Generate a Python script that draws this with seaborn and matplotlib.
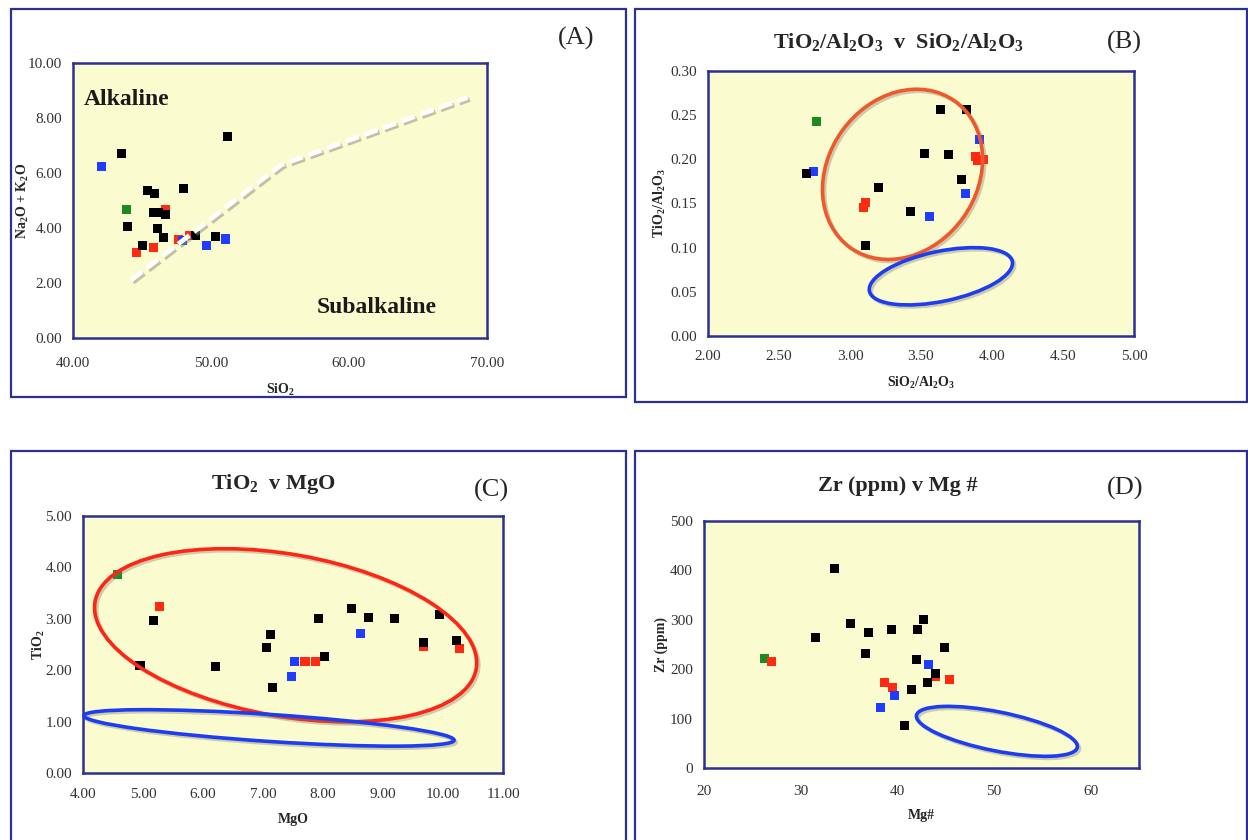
import numpy as np
import pandas as pd
import matplotlib
matplotlib.use("Agg")
import matplotlib.pyplot as plt
import matplotlib.transforms as mtransforms
import matplotlib.patheffects as pe
from matplotlib.patches import Ellipse, Rectangle
from matplotlib.ticker import FormatStrFormatter
import seaborn as sns

# ---- data (g=green, r=red, b=blue, k=black) ----
a_grp = ['g', 'r', 'r', 'r', 'r', 'r', 'b', 'b', 'b', 'b',
         'k', 'k', 'k', 'k', 'k', 'k', 'k', 'k', 'k', 'k', 'k', 'k', 'k', 'k']
a_sio2 = [43.85, 46.68, 44.57, 45.86, 47.62, 48.42, 42.06, 47.91, 49.68, 51.08,
          43.53, 51.18, 43.97, 45.37, 45.90, 45.86, 46.19, 46.68, 46.12, 46.58, 45.03, 48.88, 48.01, 50.31]
a_alk = [4.66, 4.68, 3.11, 3.29, 3.59, 3.71, 6.25, 3.53, 3.35, 3.60,
         6.71, 7.32, 4.05, 5.38, 5.24, 4.57, 4.57, 4.49, 3.98, 3.66, 3.36, 3.72, 5.42, 3.70]
# alkaline / subalkaline divide
div_sio2 = [44.2, 55.1, 68.6]
div_alk = [2.1, 6.3, 8.75]

b_grp = ['g', 'r', 'r', 'r', 'r', 'r', 'b', 'b', 'b', 'b',
         'k', 'k', 'k', 'k', 'k', 'k', 'k', 'k', 'k']
b_si_al = [2.762, 3.881, 3.900, 3.940, 3.107, 3.098, 2.744, 3.909, 3.816, 3.560,
           2.692, 3.640, 3.823, 3.527, 3.694, 3.787, 3.203, 3.429, 3.112]
b_ti_al = [0.243, 0.203, 0.199, 0.200, 0.151, 0.145, 0.186, 0.222, 0.161, 0.135,
           0.184, 0.256, 0.256, 0.207, 0.206, 0.177, 0.168, 0.1405, 0.102]

c_grp = ['g', 'r', 'r', 'r', 'r', 'r', 'b', 'b', 'b',
         'k', 'k', 'k', 'k', 'k', 'k', 'k', 'k', 'k', 'k', 'k', 'k', 'k', 'k']
c_mgo = [4.58, 5.28, 7.70, 7.87, 9.68, 10.28, 7.52, 7.48, 8.62,
         5.17, 4.95, 6.21, 7.12, 7.06, 7.16, 7.93, 8.02, 8.48, 8.76, 9.19, 9.94, 9.68, 10.23]
c_tio2 = [3.86, 3.23, 2.16, 2.16, 2.47, 2.42, 2.16, 1.88, 2.71,
          2.96, 2.10, 2.07, 2.70, 2.44, 1.66, 3.00, 2.27, 3.21, 3.03, 3.00, 3.08, 2.54, 2.57]

d_grp = ['g', 'r', 'r', 'r', 'r', 'r', 'b', 'b', 'b',
         'k', 'k', 'k', 'k', 'k', 'k', 'k', 'k', 'k', 'k', 'k', 'k', 'k', 'k']
d_mg = [26.3, 27.0, 43.98, 45.4, 38.7, 39.5, 43.2, 39.7, 38.3,
        31.5, 33.5, 35.2, 37.0, 36.7, 39.4, 42.1, 42.7, 42.0, 44.9, 43.9, 43.1, 41.5, 40.7]
d_zr = [221, 216, 186, 179, 174, 162, 210, 146, 123,
        265, 403, 292, 275, 231, 281, 280, 300, 219, 244, 192, 173, 159, 86]

palette = {'g': '#1c8a22', 'r': '#ff2a12', 'b': '#1f3cff', 'k': '#000000'}
navy = '#2c3090'
bg = '#fbfbd0'

sns.set_style("white")
plt.rcParams['font.family'] = ['Liberation Serif', 'DejaVu Serif']
plt.rcParams['mathtext.fontset'] = 'custom'
plt.rcParams['mathtext.rm'] = 'Liberation Serif'
plt.rcParams['mathtext.bf'] = 'Liberation Serif:bold'
plt.rcParams['mathtext.default'] = 'regular'

W, H = 1248, 840
fig = plt.figure(figsize=(W / 100, H / 100), dpi=100)
fig.patch.set_facecolor('white')


def px_box(x0, y0, x1, y1):
    # pixel box (top-left origin) -> figure fraction rect
    return [x0 / W, 1 - y1 / H, (x1 - x0) / W, (y1 - y0) / H]


# panel frames
for x0, y0, x1, y1 in [(11, 9, 626, 397), (635, 9, 1247, 402),
                       (11, 451, 626, 880), (635, 451, 1247, 880)]:
    r = px_box(x0, y0, x1, y1)
    fig.add_artist(Rectangle((r[0], r[1]), r[2], r[3], transform=fig.transFigure,
                             fill=False, ec=navy, lw=1.6))


def panel(rect, x, y, grp, xlim, ylim, xticks, yticks, fmt_x, fmt_y, xlabel, ylabel,
          xpad, ypad, ylpad):
    ax = fig.add_axes(px_box(*rect))
    ax.set_facecolor(bg)
    df = pd.DataFrame({'x': x, 'y': y, 'grp': grp})
    sns.scatterplot(data=df, x='x', y='y', hue='grp', palette=palette, marker='s',
                    s=42, linewidth=0, legend=False, ax=ax, zorder=3)
    ax.set_xlim(xlim)
    ax.set_ylim(ylim)
    ax.set_xticks(xticks)
    ax.set_yticks(yticks)
    ax.xaxis.set_major_formatter(FormatStrFormatter(fmt_x))
    ax.yaxis.set_major_formatter(FormatStrFormatter(fmt_y))
    ax.tick_params(direction='in', length=4, width=1.2, color=navy, labelsize=11,
                   labelcolor='#333333')
    ax.tick_params(axis='x', pad=xpad)
    ax.tick_params(axis='y', pad=ypad)
    ax.set_xlabel(xlabel, fontsize=10, fontweight='bold', labelpad=8.5)
    ax.set_ylabel(ylabel, fontsize=10, fontweight='bold', labelpad=ylpad)
    for s in ax.spines.values():
        s.set_color(navy)
        s.set_linewidth(1.8)
    return ax


def ring(ax, cx, cy, w, h, ang, col):
    tr = fig.dpi_scale_trans + mtransforms.ScaledTranslation(cx, cy, ax.transData)
    e = Ellipse((0, 0), w, h, angle=ang, transform=tr, fill=False, ec=col, lw=2.6,
                clip_on=False, zorder=4,
                path_effects=[pe.SimpleLineShadow(offset=(1.5, -1.5), shadow_color='#777766', alpha=0.35),
                              pe.Normal()])
    ax.add_patch(e)


# (A)
axA = panel((73, 63, 487, 338), a_sio2, a_alk, a_grp, (40, 70), (0, 10),
            [40, 50, 60, 70], [0, 2, 4, 6, 8, 10], '%.2f', '%.2f',
            r'SiO$_2$', r'Na$_2$O + K$_2$O', 14, 8, -2.5)
axA.plot(div_sio2, div_alk, color='white', lw=3.4, dashes=(3, 1.2), zorder=5,
         path_effects=[pe.SimpleLineShadow(offset=(1.5, -1.5), shadow_color='#888877', alpha=0.5),
                       pe.Normal()])
axA.text(43.9, 8.67, 'Alkaline', fontsize=17, fontweight='bold', color='#1a1a1a',
         ha='center', va='center')
axA.text(62.0, 1.11, 'Subalkaline', fontsize=17, fontweight='bold', color='#1a1a1a',
         ha='center', va='center')

# (B)
axB = panel((708, 71, 1134, 336), b_si_al, b_ti_al, b_grp, (2, 5), (0, 0.3),
            [2, 2.5, 3, 3.5, 4, 4.5, 5], [0, 0.05, 0.1, 0.15, 0.2, 0.25, 0.3], '%.2f', '%.2f',
            r'SiO$_2$/Al$_2$O$_3$', r'TiO$_2$/Al$_2$O$_3$', 10, 8, 1.5)
ring(axB, 3.37, 0.183, 1.80, 1.49, 54.6, '#f0582c')
ring(axB, 3.64, 0.0676, 1.46, 0.50, 11.8, '#1e3cf0')

# (C)
axC = panel((83, 516, 503, 773), c_mgo, c_tio2, c_grp, (4, 11), (0, 5),
            [4, 5, 6, 7, 8, 9, 10, 11], [0, 1, 2, 3, 4, 5], '%.2f', '%.2f',
            'MgO', r'TiO$_2$', 11, 8, -1)
ring(axC, 7.377, 2.68, 3.87, 1.62, -10, '#ff2414')
ring(axC, 7.10, 0.877, 3.71, 0.27, -3.8, '#1e3cf0')

# (D)
axD = panel((704, 521, 1139, 768), d_mg, d_zr, d_grp, (20, 65), (0, 500),
            [20, 30, 40, 50, 60], [0, 100, 200, 300, 400, 500], '%d', '%d',
            'Mg#', 'Zr (ppm)', 12, 8, 1.5)
ring(axD, 50.3, 74.2, 1.64, 0.39, -11.3, '#1e3cf0')

# titles and panel letters (pixel positions)
for txt, x, y in [(r'TiO$_2$/Al$_2$O$_3$  v  SiO$_2$/Al$_2$O$_3$', 898, 42),
                  (r'TiO$_2$  v MgO', 273, 484), ('Zr (ppm) v Mg #', 898, 486)]:
    fig.text(x / W, 1 - y / H, txt, fontsize=16, fontweight='bold', ha='center', va='center')
for txt, x, y in [('(A)', 576, 38), ('(B)', 1124, 42), ('(C)', 491, 490), ('(D)', 1125, 488)]:
    fig.text(x / W, 1 - y / H, txt, fontsize=19, ha='center', va='center')

fig.savefig('out.png', dpi=100)
